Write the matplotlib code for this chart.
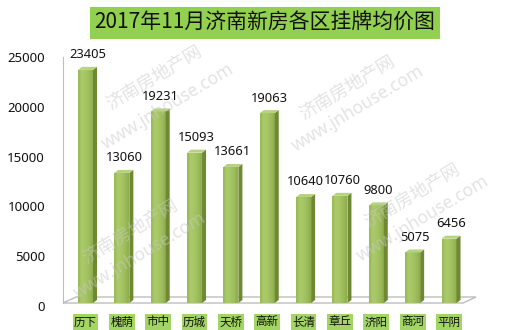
import matplotlib
matplotlib.use("Agg")
import matplotlib.pyplot as plt
import numpy as np
from matplotlib.patches import Polygon
from matplotlib.colors import LinearSegmentedColormap
import matplotlib.transforms as mtrans

plt.rcParams['font.family'] = ['Noto Sans CJK SC', 'DejaVu Sans']

categories = ['历下', '槐荫', '市中', '历城', '天桥', '高新', '长清', '章丘', '济阳', '商河', '平阴']
values = [23405, 13060, 19231, 15093, 13661, 19063, 10640, 10760, 9800, 5075, 6456]
yticks = [0, 5000, 10000, 15000, 20000, 25000]
title = '2017年11月济南新房各区挂牌均价图'

W, H = 510, 330
fig = plt.figure(figsize=(W / 100, H / 100), dpi=100)
fig.patch.set_facecolor('white')

ax_left, ax_right, ax_bot, ax_top = 63, 463, 303, 54
ax = fig.add_axes([ax_left / W, (H - ax_bot) / H, (ax_right - ax_left) / W, (ax_bot - ax_top) / H])
ax.set_facecolor('none')

x = np.arange(len(categories))
px_per_unit = 36.35
xmin = -(85.5 - ax_left) / px_per_unit
xmax = xmin + (ax_right - ax_left) / px_per_unit
ax.set_xlim(xmin, xmax)
ax.set_ylim(0, 25000)
ypx = 25000 / (ax_bot - ax_top)  # data units per pixel in y

bw = 15 / px_per_unit
dx = 4 / px_per_unit
dy = 3 * ypx

# floor
fdx = 13 / px_per_unit
fdy = 6 * ypx
floor = Polygon([(xmin, 0), (xmax, 0), (xmax + fdx, fdy), (xmin + fdx, fdy)],
                closed=True, facecolor='white', edgecolor='#bdbdbd', lw=1.0,
                zorder=1, clip_on=False)
ax.add_patch(floor)

bars = ax.bar(x, values, width=bw, color='#9bbb59', zorder=3, linewidth=0)

grad = np.array([[0.35, 0.6, 0.62, 0.55, 0.45, 0.35, 0.15]])
cmap = LinearSegmentedColormap.from_list('g', ['#88a946', '#aac969'])
for b, v in zip(bars, values):
    x0 = b.get_x()
    x1 = x0 + b.get_width()
    im = ax.imshow(grad, extent=(x0, x1, 0, v), aspect='auto', cmap=cmap,
                   vmin=0, vmax=0.62, interpolation='bilinear', zorder=3)
    im.set_clip_path(b)
    side = Polygon([(x1, 0), (x1, v), (x1 + dx, v + dy), (x1 + dx, dy)],
                   closed=True, facecolor='#6d8a32', edgecolor='none', zorder=3)
    top = Polygon([(x0, v), (x1, v), (x1 + dx, v + dy), (x0 + dx, v + dy)],
                  closed=True, facecolor='#b7d27f', edgecolor='none', zorder=3)
    ax.add_patch(side)
    ax.add_patch(top)
    ax.annotate(f'{v}', (x0 + b.get_width() / 2 + dx / 2, v + dy), xytext=(0, 4),
                textcoords='offset points', ha='center', va='bottom',
                fontsize=9.3, family=['Noto Sans', 'DejaVu Sans'], color='#111111', zorder=5)

ax.set_xlim(xmin, xmax)
ax.set_ylim(0, 25000)

for s in ['top', 'right', 'bottom']:
    ax.spines[s].set_visible(False)
ax.spines['left'].set_color('#bdbdbd')
ax.spines['left'].set_bounds(0, 24700)
ax.spines['left'].set_zorder(2)

ax.set_yticks(yticks)
ax.set_yticklabels([str(t) for t in yticks], fontsize=9.5, family=['Noto Sans', 'DejaVu Sans'], color='#111111')
ax.tick_params(axis='y', length=0, pad=13)
offs = mtrans.ScaledTranslation(0, -3 / 100, fig.dpi_scale_trans)
for lab in ax.get_yticklabels():
    lab.set_transform(lab.get_transform() + offs)

ax.set_xticks(x)
ax.set_xticklabels(categories, fontsize=8.3, color='#111111')
ax.tick_params(axis='x', length=0, pad=9)
for lab in ax.get_xticklabels():
    lab.set_bbox(dict(boxstyle='square,pad=0.12', facecolor='#a2d564', edgecolor='none'))

# title
fig.text(265 / W, 1 - 23 / H, title, ha='center', va='center', fontsize=15, color='#111111',
         bbox=dict(boxstyle='square,pad=0.22', facecolor='#92d050', edgecolor='none'))

# watermarks
wm = [((154, 78), '济南房地产网'), ((168, 106), 'www.jnhouse.com'),
      ((347, 88), '济南房地产网'), ((358, 108), 'www.jnhouse.com'),
      ((412, 196), '济南房地产网'), ((423, 218), 'www.jnhouse.com'),
      ((130, 232), '济南房地产网'), ((140, 255), 'www.jnhouse.com')]
for (px, py), t in wm:
    fs = 13 if t.startswith('济') else 12.5
    fig.text(px / W, 1 - py / H, t, ha='center', va='center', rotation=31,
             fontsize=fs, color='#c8c8c8', alpha=0.5, zorder=10,
             family=['Noto Sans', 'Noto Sans CJK SC'] if t.startswith('w') else ['Noto Sans CJK SC'])

fig.savefig('out.png', dpi=100)
